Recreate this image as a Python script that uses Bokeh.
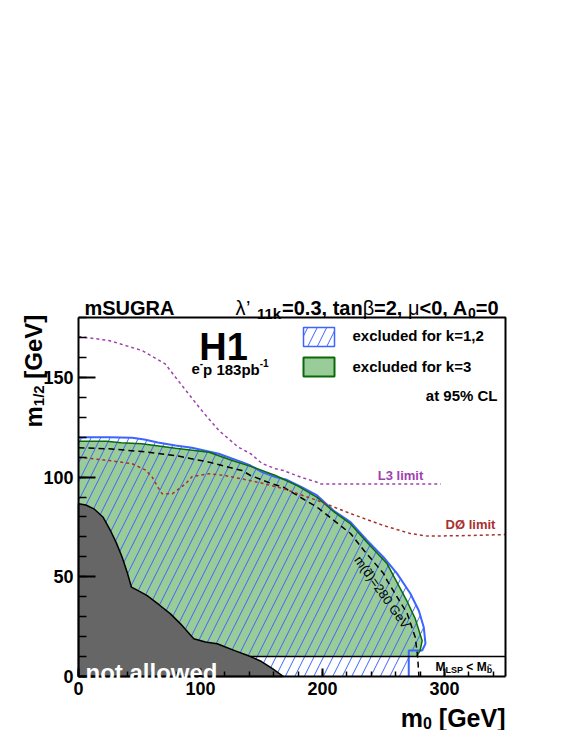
import math
from bokeh.plotting import figure
from bokeh.models import Range1d, Label, SingleIntervalTicker
from bokeh.embed import file_html
from bokeh.resources import INLINE

# ---------------- data ----------------
# "not allowed" region boundary (m0, m1/2)
grey_m0 = [0, 6, 12.6, 20, 26.2, 31, 35.8, 40, 43.4, 50, 56.3, 66, 75.4, 83.6, 94.5, 104, 113.7, 128, 141, 150, 159, 168]
grey_m12 = [86.6, 86, 84.1, 80, 73.2, 67, 59.8, 52, 44.8, 42.7, 40.6, 36, 31.4, 26.4, 18.9, 17.3, 16.4, 13, 10, 7.5, 4, 0]

# excluded for k=1,2 (blue hatched) boundary
k12_m0 = [0, 25, 44, 54, 65, 79.5, 93, 115, 134, 141, 150.5, 161.5, 170, 183, 195.6, 209, 223, 236.6, 250, 261, 272, 279, 283, 284.4, 281.7, 270.7, 270.7]
k12_m12 = [120, 120, 119.7, 118.9, 117.4, 115.8, 114.7, 111.7, 107.5, 105.8, 102.5, 100, 98.8, 95, 90.8, 83.2, 77.4, 68.2, 59.8, 51.7, 41.6, 33, 24.7, 16.5, 13, 13, 0]

# excluded for k=3 (green) boundary
k3_m0 = [0, 23, 35, 52, 79.5, 107, 126, 143, 161.5, 180, 195.6, 210, 223, 237, 253, 269, 276, 281.7, 280, 277]
k3_m12 = [118, 118, 117.2, 116.7, 114.5, 112.5, 108.3, 105, 100.8, 95.5, 89.8, 82.3, 76.5, 67, 56.5, 38.1, 29, 18, 13, 10]

# m(d~) = 280 GeV contour
md_m0 = [0, 25, 52, 79.5, 107, 134, 141, 159, 168, 195.6, 223, 234, 250, 253, 269.4, 276, 278, 279]
md_m12 = [114.7, 114.2, 112.8, 110.8, 107.5, 103.3, 100.8, 96.6, 94.9, 84.9, 71.7, 63.2, 51.7, 48.1, 31.6, 19.7, 10, 0]

# L3 limit
l3_m0 = [0, 25, 52, 71, 79.5, 90, 101, 115, 131, 141, 150.5, 161.5, 168, 182, 195.6, 198, 297]
l3_m12 = [170.5, 168.5, 163.5, 156.8, 150.1, 141.9, 133.4, 123.4, 115, 111.8, 106.8, 104.2, 103.3, 100, 97.4, 96.6, 96.6]

# D0 limit
d0_m0 = [0, 25, 44, 55, 60.4, 65, 68.6, 76.8, 82, 87.7, 93.2, 106.8, 120, 134, 150, 168, 195.6, 223, 250, 272, 286, 320, 350]
d0_m12 = [110, 108.3, 106.7, 103.5, 100, 95, 91.6, 91.6, 94, 96.6, 100.3, 101.7, 100.8, 99.1, 97, 94.2, 88.3, 81.7, 75.7, 71.7, 70.4, 70.7, 71.2]

# M_LSP < M_b~ boundary
lsp_m12 = 10
lsp_m0 = [141, 350]

x_axis_range = (0, 350)
y_axis_range = (0, 180)

# ---------------- styling ----------------
FONT = "Liberation Sans"
BLUE = "#3c64ff"
GREEN_FILL = "#99cc99"
GREEN_LINE = "#0a6a0a"
GREY = "#666666"
PURPLE = "#a040b0"
BROWN = "#a83030"

W_FIG, H_FIG = 562, 730


def px2x(px):
    return (px - 78) / 1.22


def py2y(py):
    return (676 - py) / 1.994


p = figure(x_range=Range1d(px2x(0), px2x(W_FIG)), y_range=Range1d(py2y(H_FIG), py2y(0)),
           width=W_FIG, height=H_FIG, min_border=0,
           output_backend="svg", toolbar_location=None)
p.xgrid.visible = False
p.ygrid.visible = False
p.outline_line_color = None

p.xaxis.ticker = SingleIntervalTicker(interval=100, num_minor_ticks=5)
p.yaxis.ticker = SingleIntervalTicker(interval=50, num_minor_ticks=5)
p.xaxis.fixed_location = 0
p.yaxis.fixed_location = 0
p.xaxis.bounds = x_axis_range
p.yaxis.bounds = y_axis_range
for ax in (p.xaxis[0], p.yaxis[0]):
    ax.axis_line_width = 2
    ax.major_tick_out = 0
    ax.minor_tick_out = 0
    ax.major_tick_line_width = 2
    ax.minor_tick_line_width = 1.5
    ax.major_label_text_font = FONT
    ax.major_label_text_font_style = "bold"
    ax.major_label_text_font_size = "18px"
    ax.major_label_text_color = "black"
    ax.major_label_standoff = 5
p.xaxis.major_tick_in = 8
p.xaxis.minor_tick_in = 5
p.yaxis.major_tick_in = 17
p.yaxis.minor_tick_in = 8

# ---------------- regions ----------------
p.patch(k3_m0 + [0], k3_m12 + [lsp_m12], fill_color=GREEN_FILL, line_color=None)
p.patch(k12_m0 + [0], k12_m12 + [0], fill_color=None, line_color=None,
        hatch_pattern="/", hatch_color=BLUE, hatch_scale=19, hatch_weight=1)
p.line(k12_m0, k12_m12, line_color=BLUE, line_width=2)
p.line(k3_m0, k3_m12, line_color=GREEN_LINE, line_width=1.5)
p.patch(grey_m0 + [0], grey_m12 + [0], fill_color=GREY, line_color="black", line_width=1.5)

p.line(md_m0, md_m12, line_color="black", line_width=1.5, line_dash="6 4")
p.line(l3_m0, l3_m12, line_color=PURPLE, line_width=1.5, line_dash="3 3")
p.line(d0_m0, d0_m12, line_color=BROWN, line_width=1.5, line_dash="3 3")
p.line(lsp_m0, [lsp_m12, lsp_m12], line_color="black", line_width=1.5)

# frame top and right edges
p.line([x_axis_range[0], x_axis_range[1], x_axis_range[1]],
       [y_axis_range[1], y_axis_range[1], y_axis_range[0]], line_color="black", line_width=2)

# ---------------- text helpers ----------------
WID = {' ': .278, "'": .238, '’': .278, '(': .333, ')': .333, ',': .278, '-': .333, '.': .278,
       '/': .278, '<': .584, '=': .584, '%': .889, 'A': .722, 'C': .722, 'D': .722, 'G': .778,
       'H': .722, 'L': .611, 'M': .833, 'P': .667, 'R': .722, 'S': .667, 'U': .722, 'V': .667,
       'Ø': .778, '[': .333, ']': .333, 'a': .556, 'b': .611, 'c': .556, 'd': .611, 'e': .556,
       'f': .333, 'i': .278, 'k': .556, 'l': .278, 'm': .889, 'n': .611, 'o': .611, 'p': .611,
       'r': .389, 't': .333, 'u': .611, 'w': .778, 'x': .556, 'λ': .52, 'β': .57, 'μ': .58,
       '\u0303': 0.0}


def tw(s, size):
    return sum(WID.get(ch, .556) for ch in s) * size


def width_of(pieces):
    return sum(tw(t, s) for t, s, _, _ in pieces)


def add_text(x, y, text, size, style="bold", color="black", align="left",
             baseline="alphabetic", angle=0.0):
    p.add_layout(Label(x=x, y=y, text=text, text_font=FONT, text_font_size=f"{size}px",
                       text_font_style=style, text_color=color, text_align=align,
                       text_baseline=baseline, angle=angle, angle_units="rad"))


def split_spaces(t):
    lead = len(t) - len(t.lstrip(' '))
    return lead, t.strip(' ')


def rich(pieces, start_px, base_py, color="black"):
    pos = start_px
    for t, s, style, shift in pieces:
        lead, core = split_spaces(t)
        add_text(px2x(pos + tw(' ' * lead, s)), py2y(base_py + shift), core, s, style, color)
        pos += tw(t, s)


def rich_vertical(pieces, start_py, base_px, color="black"):
    pos = start_py
    for t, s, style, shift in pieces:
        lead, core = split_spaces(t)
        add_text(px2x(base_px + shift), py2y(pos - tw(' ' * lead, s)), core, s, style, color,
                 angle=math.pi / 2)
        pos -= tw(t, s)


# ---------------- titles ----------------
add_text(px2x(84), py2y(307), "mSUGRA", 20)
title_pieces = [("λ", 20, "normal", 0), ("’ ", 20, "normal", 0), ("11k", 15, "bold", 6),
                ("=0.3, tan", 20, "bold", 0), ("β", 20, "normal", 0), ("=2, ", 20, "bold", 0),
                ("μ", 20, "normal", 0), ("<0, A", 20, "bold", 0), ("0", 14, "bold", 5),
                ("=0", 20, "bold", 0)]
rich(title_pieces, 498 - width_of(title_pieces), 307)

xt = [("m", 25, "bold", 0), ("0", 16, "bold", 5), (" [GeV]", 25, "bold", 0)]
rich(xt, 505 - width_of(xt), 717)
yt = [("m", 24, "bold", 0), ("1/2", 15, "bold", 5), (" [GeV]", 24, "bold", 0)]
rich_vertical(yt, 427, 33)

# ---------------- annotations in the frame ----------------
add_text(px2x(223), py2y(346.7), "H1", 38, align="center")
ep = [("e", 15, "bold", 0), ("-", 10, "bold", -6), ("p 183pb", 15, "bold", 0), ("-1", 10, "bold", -6)]
rich(ep, 229.5 - width_of(ep) / 2, 368.5)

# legend
p.quad(left=[px2x(303)], right=[px2x(334)], top=[py2y(327)], bottom=[py2y(346)],
       fill_color="white", line_color=BLUE, line_width=1.5,
       hatch_pattern="/", hatch_color=BLUE, hatch_scale=19, hatch_weight=1)
p.quad(left=[px2x(303)], right=[px2x(334)], top=[py2y(357)], bottom=[py2y(376)],
       fill_color=GREEN_FILL, line_color=GREEN_LINE, line_width=2)
add_text(px2x(352), py2y(335), "excluded for k=1,2", 15, baseline="middle")
add_text(px2x(352), py2y(366), "excluded for k=3", 15, baseline="middle")
add_text(px2x(497), py2y(395), "at 95% CL", 15, align="right", baseline="middle")

add_text(px2x(400), py2y(475), "L3 limit", 13, color=PURPLE, align="center", baseline="middle")
add_text(px2x(470), py2y(524), "DØ limit", 13, color=BROWN, align="center", baseline="middle")
add_text(px2x(381.7), py2y(591.7), "m(d\u0303)=280 GeV", 13, style="normal",
         align="center", baseline="middle", angle=-0.951)

add_text(px2x(85), py2y(671.5), "not allowed", 24, color="white")
lsp = [("M", 12, "bold", 0), ("LSP", 9, "bold", 3), (" < ", 12, "bold", 0),
       ("M", 12, "bold", 0), ("b\u0303", 9, "bold", 3)]
rich(lsp, 435, 666.5)

open("out.html", "w").write(file_html(p, INLINE))
